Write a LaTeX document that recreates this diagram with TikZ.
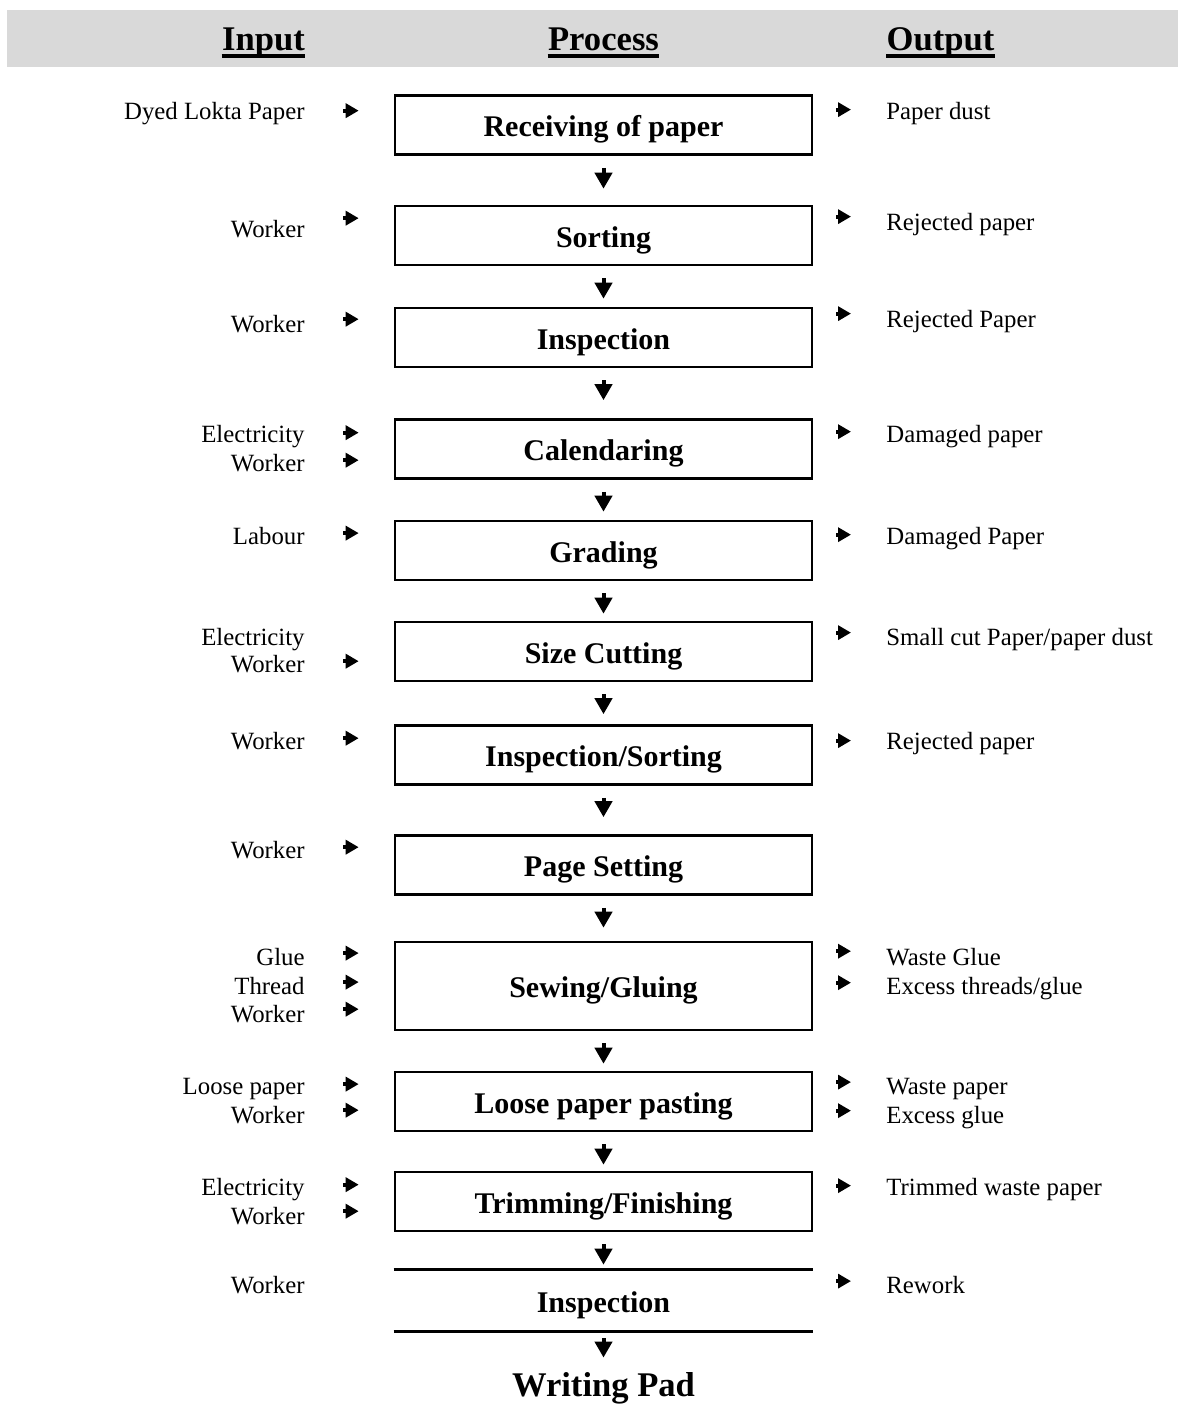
\documentclass[tikz,border=0pt]{standalone}
\usepackage{fontspec}
\setmainfont{Liberation Serif}
\usetikzlibrary{arrows.meta}
\definecolor{headgray}{HTML}{D9D9D9}
\newcommand\bodyfont{\fontsize{12.4}{14}\selectfont}
\newcommand\stagefont{\fontsize{15}{17}\selectfont\bfseries}
\newcommand\headfont{\fontsize{17.3}{20}\selectfont\bfseries}
\tikzset{%
  stage/.style={draw, line width=1.3pt, minimum width=208.5pt, minimum height=29.5pt, inner sep=0pt,
    text height=11.5pt, text depth=0pt, font=\stagefont},
  inlabel/.style={anchor=mid east, inner sep=0pt, font=\bodyfont},
  outlabel/.style={anchor=mid west, inner sep=0pt, font=\bodyfont},
  head/.style={anchor=base, inner sep=0pt, font=\headfont},
  feed/.style={-{Triangle[length=6.5pt,width=7pt]}, line width=2pt, shorten <=19pt, shorten >=17.5pt},
  waste/.style={-{Triangle[length=6.5pt,width=7pt]}, line width=2pt, shorten <=11.5pt, shorten >=17.5pt},
  flow/.style={-{Triangle[length=8pt,width=8.5pt]}, line width=2pt, shorten <=6pt}
}

\begin{document}
\begin{tikzpicture}[x=0.5pt, y=-0.5pt]
\useasboundingbox (0,0) rectangle (1178,1404);

% header band
\fill[headgray] (7,10) rectangle (1178,67);
\node[head] (hin) at (263.5,50) {Input};
\node[head] (hpro) at (603.5,50) {Process};
\node[head] (hout) at (940.5,50) {Output};
\foreach \h in {hin,hpro,hout}
  \draw[line width=2pt] ([yshift=-3pt]\h.base west) -- ([yshift=-3pt]\h.base east);

% process stages
\node[stage] (b1) at (603.5,125) {Receiving of paper};
\node[stage] (b2) at (603.5,235.5) {Sorting};
\node[stage] (b3) at (603.5,337.5) {Inspection};
\node[stage] (b4) at (603.5,449) {Calendaring};
\node[stage] (b5) at (603.5,550.5) {Grading};
\node[stage] (b6) at (603.5,651.5) {Size Cutting};
\node[stage] (b7) at (603.5,755) {Inspection/Sorting};
\node[stage] (b8) at (603.5,865) {Page Setting};
\node[stage, minimum height=44pt] (b9) at (603.5,986) {Sewing/Gluing};
\node[stage] (b10) at (603.5,1101.5) {Loose paper pasting};
\node[stage] (b11) at (603.5,1201.5) {Trimming/Finishing};
\node[stage, draw=none] (b12) at (603.5,1300.5) {Inspection};
\draw[line width=1.3pt] (b12.north west) -- (b12.north east);
\draw[line width=1.3pt] (b12.south west) -- (b12.south east);
\node[head] (pad) at (603.5,1396) {Writing Pad};

% inputs
\node[inlabel] (i1) at (305,115) {Dyed Lokta Paper};
\node[inlabel] (i2) at (305,233) {Worker};
\node[inlabel] (i3) at (305,328) {Worker};
\node[inlabel] (i4a) at (305,438) {Electricity};
\node[inlabel] (i4b) at (305,467) {Worker};
\node[inlabel] (i5) at (305,540) {Labour};
\node[inlabel] (i6a) at (305,641) {Electricity};
\node[inlabel] (i6b) at (305,668) {Worker};
\node[inlabel] (i7) at (305,745) {Worker};
\node[inlabel] (i8) at (305,854) {Worker};
\node[inlabel] (i9a) at (305,961) {Glue};
\node[inlabel] (i9b) at (305,990) {Thread};
\node[inlabel] (i9c) at (305,1018) {Worker};
\node[inlabel] (i10a) at (305,1090) {Loose paper};
\node[inlabel] (i10b) at (305,1119) {Worker};
\node[inlabel] (i11a) at (305,1191) {Electricity};
\node[inlabel] (i11b) at (305,1220) {Worker};
\node[inlabel] (i12) at (305,1289) {Worker};

% outputs
\node[outlabel] (o1) at (886,115) {Paper dust};
\node[outlabel] (o2) at (886,226) {Rejected paper};
\node[outlabel] (o3) at (886,323) {Rejected Paper};
\node[outlabel] (o4) at (886,438) {Damaged paper};
\node[outlabel] (o5) at (886,540) {Damaged Paper};
\node[outlabel] (o6) at (886,641) {Small cut Paper/paper dust};
\node[outlabel] (o7) at (886,745) {Rejected paper};
\node[outlabel] (o9a) at (886,961) {Waste Glue};
\node[outlabel] (o9b) at (886,990) {Excess threads/glue};
\node[outlabel] (o10a) at (886,1090) {Waste paper};
\node[outlabel] (o10b) at (886,1119) {Excess glue};
\node[outlabel] (o11) at (886,1191) {Trimmed waste paper};
\node[outlabel] (o12) at (886,1289) {Rework};

% side arrows
\foreach \n/\b/\s in {i1/b1/1.5, i2/b2/5.5, i3/b3/2.5, i4a/b4/2, i4b/b4/1.5, i5/b5/1.5,
    i6b/b6/1.5, i7/b7/1.5, i8/b8/1.5, i9a/b9/2, i9b/b9/2, i9c/b9/2.5,
    i10a/b10/2.5, i10b/b10/2.5, i11a/b11/2.5, i11b/b11/2.5}
  \draw[feed] ([yshift=\s pt]\n.east) -- ([yshift=\s pt]\n.east -| \b.west);
\foreach \n/\b/\s in {o1/b1/2, o2/b2/4, o3/b3/4, o4/b4/2.5, o5/b5/2, o6/b6/3.5, o7/b7/1.5,
    o9a/b9/3, o9b/b9/3, o10a/b10/3.5, o10b/b10/3.5, o11/b11/2, o12/b12/2}
  \draw[waste] ([yshift=\s pt]\n.west -| \b.east) -- ([yshift=\s pt]\n.west);

% down arrows
\draw[flow, shorten >=8pt] (b1) -- (b2);
\draw[flow, shorten >=4pt] (b2) -- (b3);
\draw[flow, shorten >=9pt] (b3) -- (b4);
\draw[flow, shorten >=4pt] (b4) -- (b5);
\draw[flow, shorten >=3.5pt] (b5) -- (b6);
\draw[flow, shorten >=5pt] (b6) -- (b7);
\draw[flow, shorten >=8.5pt] (b7) -- (b8);
\draw[flow, shorten >=6.5pt] (b8) -- (b9);
\draw[flow, shorten >=3.5pt] (b9) -- (b10);
\draw[flow, shorten >=3pt] (b10) -- (b11);
\draw[flow, shorten >=2.5pt] (b11) -- (b12);
\draw[flow, shorten <=3.5pt, shorten >=7pt] (b12.south) -- (pad.north);
\end{tikzpicture}
\end{document}
